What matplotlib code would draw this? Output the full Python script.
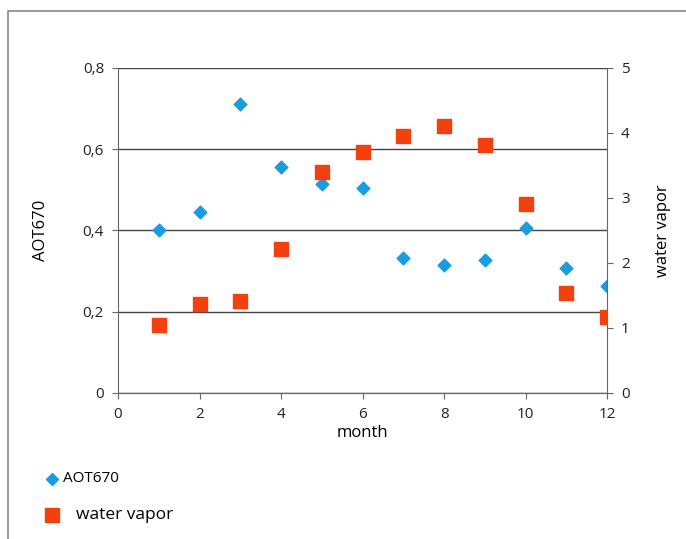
import matplotlib
matplotlib.use("Agg")
import matplotlib.pyplot as plt
from matplotlib.ticker import FuncFormatter
from matplotlib.lines import Line2D
from matplotlib.patches import Rectangle

months = [1, 2, 3, 4, 5, 6, 7, 8, 9, 10, 11, 12]
aot670 = [0.40, 0.445, 0.71, 0.555, 0.515, 0.505, 0.333, 0.315, 0.327, 0.405, 0.307, 0.263]
water_vapor = [1.05, 1.37, 1.42, 2.22, 3.40, 3.70, 3.96, 4.11, 3.82, 2.91, 1.54, 1.17]
left_ticks = [0, 0.2, 0.4, 0.6, 0.8]
right_ticks = [0, 1, 2, 3, 4, 5]
x_ticks = [0, 2, 4, 6, 8, 10, 12]
series_names = ["AOT670", "water vapor"]

blue = "#1B9BE0"
red = "#F2400E"
plt.rcParams['font.family'] = ['Open Sans', 'DejaVu Sans']

fig = plt.figure(figsize=(6.86, 5.39), dpi=100)
fig.patches.append(Rectangle((0.012, -0.01), 0.99, 0.99, transform=fig.transFigure,
                             fill=False, edgecolor="#888888", lw=1.2))
ax = fig.add_axes([0.172, 0.271, 0.713, 0.603])
ax2 = ax.twinx()

ax.scatter(months, aot670, marker="D", s=42, color=blue, zorder=3, label=series_names[0])
ax2.scatter(months, water_vapor, marker="s", s=110, color=red, zorder=3, label=series_names[1])

ax.set_xlim(0, 12)
ax.set_ylim(0, 0.8)
ax2.set_ylim(0, 5)
ax.set_xticks(x_ticks)
ax.set_yticks(left_ticks)
ax2.set_yticks(right_ticks)
fmt = FuncFormatter(lambda v, p: ("%g" % v).replace(".", ","))
ax.yaxis.set_major_formatter(fmt)
ax.yaxis.grid(True, color="#444444", lw=1.0)
ax.set_axisbelow(True)
for a in (ax, ax2):
    a.spines['top'].set_visible(False)
    for s in ('left', 'right', 'bottom'):
        a.spines[s].set_color("#666666")
    a.tick_params(labelsize=11, colors="#222222", length=4, color="#666666", pad=6)
ax2.spines['left'].set_visible(False)
ax.spines['right'].set_visible(False)

ax.set_xlabel("month", fontsize=12, labelpad=2)
ax.set_ylabel("AOT670", fontsize=12, labelpad=24)
ax2.set_ylabel("water vapor", fontsize=12, labelpad=18)

# legend (manual, below the plot)
fig.add_artist(Line2D([0.076], [0.112], marker="D", color=blue, ls="", markersize=6,
                      transform=fig.transFigure))
fig.text(0.092, 0.112, series_names[0], fontsize=11, va="center", ha="left")
fig.add_artist(Line2D([0.076], [0.044], marker="s", color=red, ls="", markersize=10,
                      transform=fig.transFigure))
fig.text(0.111, 0.044, series_names[1], fontsize=12.5, va="center", ha="left")

fig.savefig("out.png", dpi=100)
